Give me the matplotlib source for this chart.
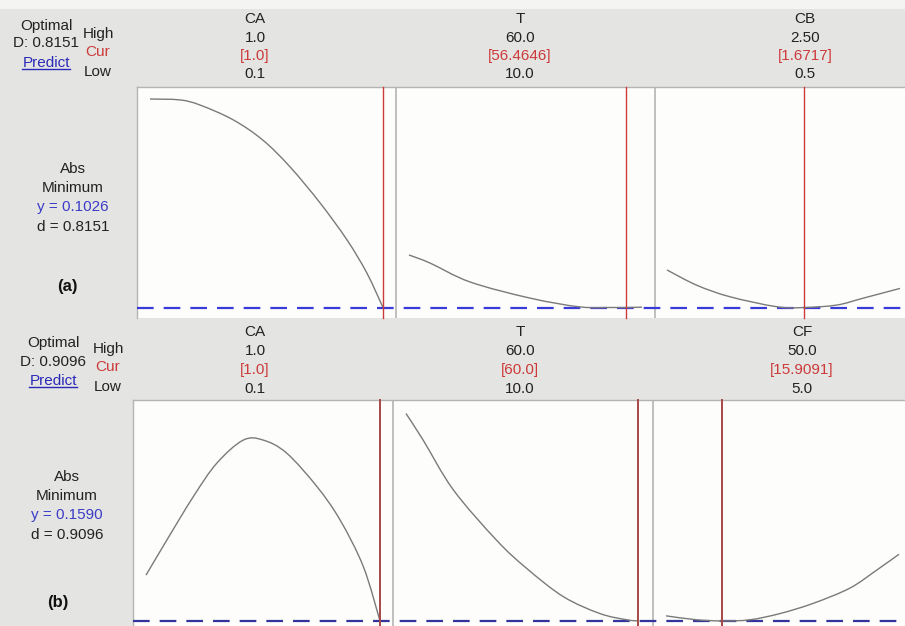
import matplotlib
matplotlib.use("Agg")
import matplotlib.pyplot as plt
from matplotlib.patches import Rectangle, PathPatch
from matplotlib.path import Path
from matplotlib.lines import Line2D

W, H = 905, 626

# ---- optimisation (a): factors CA, T, CB ----
a_D = "0.8151"
a_y = 0.1026
a_factors = ["CA", "T", "CB"]
a_high = ["1.0", "60.0", "2.50"]
a_cur = ["[1.0]", "[56.4646]", "[1.6717]"]
a_low = ["0.1", "10.0", "0.5"]
a_cur_val = [1.0, 56.4646, 1.6717]
a_lims = [(0.1, 1.0), (10.0, 60.0), (0.5, 2.5)]

a_ca_x = [0.10, 0.216, 0.293, 0.421, 0.536, 0.641, 0.757, 0.861, 0.938, 1.00]
a_ca_y = [0.554, 0.552, 0.541, 0.509, 0.465, 0.407, 0.329, 0.249, 0.177, 0.1026]
a_t_x = [10.0, 14.5, 23.1, 36.0, 46.7, 53.8, 56.4646, 60.0]
a_t_y = [0.2164, 0.199, 0.158, 0.123, 0.104, 0.1028, 0.1026, 0.1035]
a_cb_x = [0.50, 0.755, 1.04, 1.44, 1.6717, 1.957, 2.185, 2.50]
a_cb_y = [0.184, 0.151, 0.126, 0.1045, 0.1026, 0.108, 0.123, 0.144]

# ---- optimisation (b): factors CA, T, CF ----
b_D = "0.9096"
b_y = 0.1590
b_factors = ["CA", "T", "CF"]
b_high = ["1.0", "60.0", "50.0"]
b_cur = ["[1.0]", "[60.0]", "[15.9091]"]
b_low = ["0.1", "10.0", "5.0"]
b_cur_val = [1.0, 60.0, 15.9091]
b_lims = [(0.1, 1.0), (10.0, 60.0), (5.0, 50.0)]

b_ca_x = [0.10, 0.18, 0.282, 0.372, 0.474, 0.551, 0.641, 0.757, 0.846, 0.936, 1.00]
b_ca_y = [0.240, 0.302, 0.379, 0.438, 0.479, 0.479, 0.456, 0.397, 0.338, 0.255, 0.159]
b_t_x = [10.0, 13.7, 20.2, 29.5, 36.0, 43.9, 51.8, 57.6, 60.0]
b_t_y = [0.526, 0.479, 0.391, 0.302, 0.252, 0.202, 0.172, 0.161, 0.159]
b_cf_x = [5.0, 10.9, 15.9091, 21.2, 27.0, 33.4, 40.5, 45.7, 50.0]
b_cf_y = [0.168, 0.161, 0.159, 0.161, 0.172, 0.190, 0.217, 0.249, 0.277]

plt.rcParams["font.family"] = ["Liberation Sans", "DejaVu Sans"]
FS = 11

BG = "#e4e4e2"
RED = "#cc3a3a"
BLUE = "#3c3cc8"
CURVE = "#7a7a7a"
BORDER = "#b4b4b4"
INK = "#222222"

fig = plt.figure(figsize=(W / 100, H / 100), dpi=100, facecolor=BG)


def fx(px):
    return px / W


def fy(py):
    return 1 - py / H


def rect(l, t, r, b):
    return [fx(l), fy(b), fx(r) - fx(l), fy(t) - fy(b)]


def smooth_path(xs, ys):
    """Cubic Bezier path passing through every point (Catmull-Rom tangents)."""
    pts = list(zip(xs, ys))
    n = len(pts)
    verts = [pts[0]]
    codes = [Path.MOVETO]
    for i in range(n - 1):
        p0 = pts[i - 1] if i > 0 else pts[i]
        p1 = pts[i]
        p2 = pts[i + 1]
        p3 = pts[i + 2] if i + 2 < n else pts[i + 1]
        c1 = (p1[0] + (p2[0] - p0[0]) / 6, p1[1] + (p2[1] - p0[1]) / 6)
        c2 = (p2[0] - (p3[0] - p1[0]) / 6, p2[1] - (p3[1] - p1[1]) / 6)
        verts += [c1, c2, p2]
        codes += [Path.CURVE4] * 3
    return Path(verts, codes)


fig.patches.append(Rectangle((0, fy(9)), 1, 1 - fy(9), transform=fig.transFigure,
                             facecolor="#f4f4f3", edgecolor="none", zorder=0))


def draw_row(top, bottom, left, panels, seps, ylim, yopt, curves, lims, curv,
             factors, high, cur, low, hdr_x, hdr_y, side, dash_col, red_col, red_lw):
    # white plot strip with the optimum (dashed) line across all panels
    row = fig.add_axes(rect(left, top, W + 2, bottom))
    row.set_facecolor("#fdfdfb")
    row.set_xlim(0, 1)
    row.set_ylim(*ylim)
    row.set_xticks([])
    row.set_yticks([])
    for s in ("right", "bottom"):
        row.spines[s].set_visible(False)
    for s in ("left", "top"):
        row.spines[s].set_color(BORDER)
        row.spines[s].set_linewidth(1.0)
    row.axhline(yopt, color=dash_col, lw=1.6, dashes=(7.5, 4.5), zorder=3)
    for sx in seps:
        row.axvline((sx - left) / (W + 2 - left), color=BORDER, lw=1.2)

    for (pl, pr), (xs, ys), lim, cv in zip(panels, curves, lims, curv):
        ax = fig.add_axes(rect(pl, top, pr, bottom))
        ax.patch.set_visible(False)
        ax.set_xlim(*lim)
        ax.set_ylim(*ylim)
        ax.axis("off")
        ax.add_patch(PathPatch(smooth_path(xs, ys), facecolor="none", edgecolor=CURVE,
                               lw=1.0, clip_on=False, zorder=2))
        ax.axvline(cv, color=red_col, lw=red_lw, clip_on=False, zorder=4)

    for i, x in enumerate(hdr_x):
        fig.text(fx(x), fy(hdr_y[0]), factors[i], ha="center", va="center", fontsize=FS, color=INK)
        fig.text(fx(x), fy(hdr_y[1]), high[i], ha="center", va="center", fontsize=FS, color=INK)
        fig.text(fx(x), fy(hdr_y[2]), cur[i], ha="center", va="center", fontsize=FS, color=RED)
        fig.text(fx(x), fy(hdr_y[3]), low[i], ha="center", va="center", fontsize=FS, color=INK)

    (ox, oy, dy_, py_, hx, hy, cy, ly, D, ax_x, abs_y, yv, lab_x, lab_y, lab) = side
    fig.text(fx(ox), fy(oy), "Optimal", ha="center", va="center", fontsize=FS, color=INK)
    fig.text(fx(ox), fy(dy_), "D: " + D, ha="center", va="center", fontsize=FS, color=INK)
    pt = fig.text(fx(ox), fy(py_), "Predict", ha="center", va="center", fontsize=FS, color="#2a2ab8")
    fig.text(fx(hx), fy(hy), "High", ha="center", va="center", fontsize=FS, color=INK)
    fig.text(fx(hx), fy(cy), "Cur", ha="center", va="center", fontsize=FS, color=RED)
    fig.text(fx(hx), fy(ly), "Low", ha="center", va="center", fontsize=FS, color=INK)
    fig.text(fx(ax_x), fy(abs_y[0]), "Abs", ha="center", va="center", fontsize=FS, color=INK)
    fig.text(fx(ax_x), fy(abs_y[1]), "Minimum", ha="center", va="center", fontsize=FS, color=INK)
    fig.text(fx(ax_x), fy(abs_y[2]), "y = %.4f" % yv, ha="center", va="center", fontsize=FS, color=BLUE)
    fig.text(fx(ax_x), fy(abs_y[3]), "d = " + D, ha="center", va="center", fontsize=FS, color=INK)
    fig.text(fx(lab_x), fy(lab_y), lab, ha="center", va="center", fontsize=12,
             fontweight="bold", color="#111111")
    return pt


pa = draw_row(87, 318, 137,
              [(150, 383), (409, 642), (667, 900)], [396, 655],
              (0.08, 0.58), a_y,
              [(a_ca_x, a_ca_y), (a_t_x, a_t_y), (a_cb_x, a_cb_y)],
              a_lims, a_cur_val, a_factors, a_high, a_cur, a_low,
              [255, 520, 805], [19, 38, 56, 74],
              (46, 26, 43, 63, 98, 34, 52, 72, a_D, 73, [169, 188, 207, 227], a_y, 67, 287, "(a)"),
              "#3a3ad8", RED, 1.0)

pb = draw_row(400, 626, 133,
              [(146, 380), (406, 638), (666, 899)], [393, 653],
              (0.15, 0.55), b_y,
              [(b_ca_x, b_ca_y), (b_t_x, b_t_y), (b_cf_x, b_cf_y)],
              b_lims, b_cur_val, b_factors, b_high, b_cur, b_low,
              [255, 520, 802], [332, 351, 370, 389],
              (53, 343, 362, 381, 108, 349, 367, 387, b_D, 67, [477, 496, 515, 535], b_y, 58, 602, "(b)"),
              "#34349c", "#a84848", 1.4)

# underline the "Predict" links
fig.canvas.draw()
inv = fig.transFigure.inverted()
for t in (pa, pb):
    bb = t.get_window_extent().transformed(inv)
    fig.add_artist(Line2D([bb.x0, bb.x1], [bb.y0 + 0.002, bb.y0 + 0.002],
                          transform=fig.transFigure, color="#2a2ab8", lw=1.0))

fig.savefig("out.png", dpi=100, facecolor=BG)
